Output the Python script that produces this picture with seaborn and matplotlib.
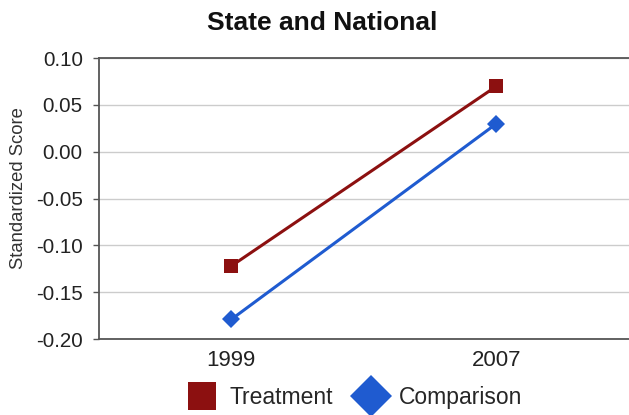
import matplotlib
matplotlib.use("Agg")
import matplotlib.pyplot as plt
import seaborn as sns
import pandas as pd
from matplotlib.lines import Line2D

years = ["1999", "2007"]
treatment = [-0.122, 0.070]
comparison = [-0.179, 0.030]
series_names = ["Treatment", "Comparison"]
yticks = [-0.20, -0.15, -0.10, -0.05, 0.00, 0.05, 0.10]

df = pd.DataFrame({
    "Year": years * 2,
    "Score": treatment + comparison,
    "Group": [series_names[0]] * 2 + [series_names[1]] * 2,
})

sns.set_theme(style="white")
plt.rcParams["font.family"] = ["Liberation Sans", "DejaVu Sans"]

colors = {"Treatment": "#8c1010", "Comparison": "#1f5bd0"}
markers = {"Treatment": "s", "Comparison": "D"}

fig = plt.figure(figsize=(6.29, 4.15), dpi=100)
ax = fig.add_axes([0.157, 0.183, 0.843, 0.677])

sns.lineplot(data=df, x="Year", y="Score", hue="Group", style="Group",
             palette=colors, markers=markers, dashes=False, linewidth=2.2,
             markersize=9.5, markeredgewidth=0, ax=ax, legend=False, sort=False)

ax.set_xlim(-0.5, 1.5)
ax.set_ylim(-0.20, 0.10)
ax.set_yticks(yticks)
ax.set_yticklabels([f"{v:.2f}" for v in yticks], fontsize=14.8, color="#222222")
ax.tick_params(axis="x", labelsize=16, length=0, pad=8, labelcolor="#222222")
ax.tick_params(axis="y", length=4.5, width=1, color="#555555", left=True, direction="out", pad=7)
ax.set_xlabel("")
ax.set_ylabel("Standardized Score", fontsize=13.3, color="#333333")
ax.yaxis.set_label_coords(-0.136, 0.537)
ax.yaxis.grid(True, color="#cccccc", linewidth=1)
ax.xaxis.grid(False)
ax.spines["right"].set_visible(False)
for s in ["left", "bottom", "top"]:
    ax.spines[s].set_color("#555555")
    ax.spines[s].set_linewidth(1.3)

fig.text(0.512, 0.945, "State and National", ha="center", va="center",
         fontsize=19, fontweight="bold", color="#111111")

handles = [Line2D([], [], linestyle="none", marker=markers[n], color=colors[n],
                  markersize=19.5 if n == "Treatment" else 21, markeredgewidth=0)
           for n in series_names]
fig.legend(handles, series_names, loc="center", bbox_to_anchor=(0.565, 0.043),
           ncol=2, frameon=False, fontsize=16.5, handlelength=1.2,
           handletextpad=0.6, columnspacing=1.05, borderpad=0.1)

fig.savefig("out.png", dpi=100)
